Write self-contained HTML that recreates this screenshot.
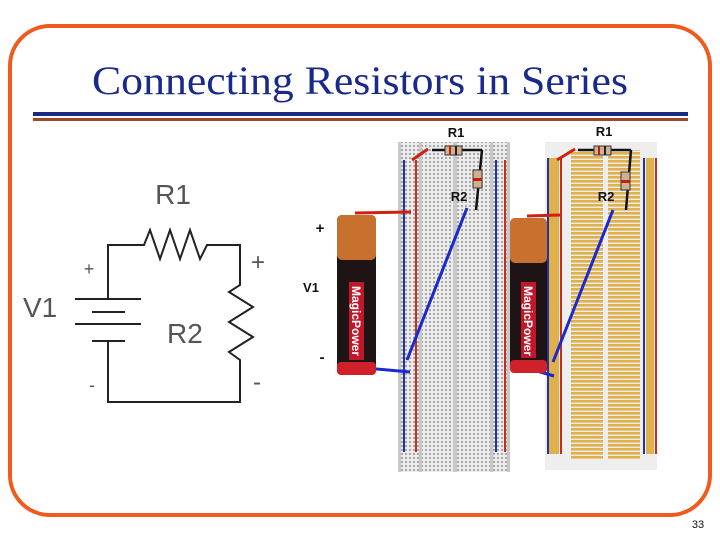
<!DOCTYPE html>
<html><head><meta charset="utf-8"><style>
html,body{margin:0;padding:0;background:#fff;width:720px;height:540px;overflow:hidden}
svg{display:block}
</style></head><body>
<svg width="720" height="540" viewBox="0 0 720 540" xmlns="http://www.w3.org/2000/svg">
<defs>
<pattern id="holes" width="4" height="4" patternUnits="userSpaceOnUse">
<rect width="4" height="4" fill="#ececec"/><rect x="1" y="1" width="2" height="2" fill="#a8a8a8"/>
</pattern>
<pattern id="strips" width="4" height="4" patternUnits="userSpaceOnUse">
<rect width="4" height="4" fill="#eee"/><rect x="0" y="0" width="4" height="2.6" fill="#e0b04a"/>
</pattern>
</defs>
<rect x="10" y="26" width="700" height="489" rx="40" fill="none" stroke="#f05a1e" stroke-width="4"/>
<text x="360" y="94" text-anchor="middle" font-family="Liberation Serif, serif" font-size="40" fill="#1a2a8c" textLength="536" lengthAdjust="spacingAndGlyphs">Connecting Resistors in Series</text>
<rect x="33" y="112" width="655" height="4" fill="#1a2a80"/>
<rect x="33" y="118" width="655" height="3" fill="#a0462a"/>

<g stroke="#222" stroke-width="2" fill="none">
<polyline points="108,299 108,245 144,245 150,230 160,259 170,230 180,259 190,230 200,259 207,245 240,245 240,285 229,292 253,307 229,322 253,337 229,352 240,360 240,402 108,402 108,341"/>
<line x1="75" y1="299" x2="141" y2="299"/>
<line x1="92" y1="312" x2="125" y2="312"/>
<line x1="75" y1="324" x2="141" y2="324"/>
<line x1="92" y1="341" x2="125" y2="341"/>
</g>
<g font-family="Liberation Sans, sans-serif" fill="#555">
<text x="173" y="204" font-size="28" text-anchor="middle">R1</text>
<text x="23" y="317" font-size="28">V1</text>
<text x="167" y="343" font-size="28">R2</text>
<text x="89" y="275" font-size="18" text-anchor="middle">+</text>
<text x="258" y="270" font-size="24" text-anchor="middle">+</text>
<text x="92" y="391" font-size="18" text-anchor="middle">-</text>
<text x="257" y="390" font-size="24" text-anchor="middle">-</text>
</g>

<rect x="398" y="142" width="112" height="330" fill="url(#holes)"/>
<g fill="#c8c8c8"><rect x="398" y="142" width="3" height="330"/><rect x="419" y="142" width="3" height="330"/><rect x="453" y="142" width="4" height="330"/><rect x="490" y="142" width="3" height="330"/><rect x="507" y="142" width="3" height="330"/></g>
<rect x="403" y="160" width="2" height="292" fill="#2233aa"/><rect x="415" y="160" width="2" height="292" fill="#cc2a1a"/>
<rect x="495" y="160" width="2" height="292" fill="#2233aa"/><rect x="504" y="160" width="2" height="292" fill="#cc2a1a"/>
<rect x="545" y="142" width="112" height="328" fill="#eee"/>
<rect x="549" y="158" width="10" height="296" fill="#e0b04a"/>
<rect x="547" y="158" width="2" height="296" fill="#2233aa"/><rect x="560" y="158" width="2" height="296" fill="#cc2a1a"/>
<rect x="571" y="150" width="32" height="310" fill="url(#strips)"/>
<rect x="608" y="150" width="32" height="310" fill="url(#strips)"/>
<rect x="646" y="158" width="8" height="296" fill="#e0b04a"/>
<rect x="643" y="158" width="2" height="296" fill="#2233aa"/><rect x="655" y="158" width="2" height="296" fill="#cc2a1a"/>

<g stroke-width="2.5" fill="none">
<line x1="412" y1="160" x2="428" y2="149" stroke="#d02010" stroke-width="3"/>
<line x1="432" y1="150" x2="482" y2="150" stroke="#111"/>
<line x1="482" y1="150" x2="476" y2="210" stroke="#111"/>
<line x1="557" y1="160" x2="575" y2="149" stroke="#d02010" stroke-width="3"/>
<line x1="578" y1="150" x2="631" y2="150" stroke="#111"/>
<line x1="631" y1="150" x2="626" y2="210" stroke="#111"/>
<line x1="467" y1="208" x2="407" y2="360" stroke="#1a2ad0" stroke-width="3"/>
<line x1="613" y1="210" x2="553" y2="362" stroke="#1a2ad0" stroke-width="3"/>
<line x1="355" y1="213" x2="411" y2="212" stroke="#d02010" stroke-width="3"/>
<line x1="527" y1="216" x2="560" y2="215" stroke="#d02010" stroke-width="3"/>
<line x1="355" y1="367" x2="410" y2="372" stroke="#1a2ad0" stroke-width="3"/>
<line x1="527" y1="368" x2="554" y2="376" stroke="#1a2ad0" stroke-width="3"/>
</g>
<g>
<rect x="445" y="146" width="17" height="9" fill="#d0b090" stroke="#333"/>
<rect x="449" y="146" width="2" height="9" fill="#c02010"/><rect x="455" y="146" width="2" height="9" fill="#222"/>
<rect x="473" y="170" width="9" height="18" fill="#d0b090" stroke="#333"/>
<rect x="473" y="178" width="9" height="3" fill="#c02010"/>
<rect x="594" y="146" width="17" height="9" fill="#d0b090" stroke="#333"/>
<rect x="598" y="146" width="2" height="9" fill="#c02010"/><rect x="604" y="146" width="2" height="9" fill="#222"/>
<rect x="621" y="172" width="9" height="18" fill="#d0b090" stroke="#333"/>
<rect x="621" y="180" width="9" height="3" fill="#c02010"/>
</g>
<g>
<rect x="337" y="215" width="39" height="160" rx="5" fill="#1e1416"/>
<rect x="337" y="215" width="39" height="45" rx="5" fill="#c8702e"/>
<rect x="337" y="362" width="39" height="13" rx="4" fill="#d0202a"/>
<rect x="349" y="282" width="15" height="78" fill="#c0182a"/>
<text transform="translate(352,286) rotate(90)" font-family="Liberation Sans, sans-serif" font-weight="bold" font-size="12" fill="#fff">MagicPower</text>
<rect x="510" y="218" width="37" height="155" rx="5" fill="#1e1416"/>
<rect x="510" y="218" width="37" height="45" rx="5" fill="#c8702e"/>
<rect x="510" y="360" width="37" height="13" rx="4" fill="#d0202a"/>
<rect x="521" y="282" width="15" height="76" fill="#c0182a"/>
<text transform="translate(524,286) rotate(90)" font-family="Liberation Sans, sans-serif" font-weight="bold" font-size="12" fill="#fff">MagicPower</text>
</g>
<g font-family="Liberation Sans, sans-serif" font-weight="bold" font-size="13" fill="#111">
<text x="456" y="137" text-anchor="middle">R1</text>
<text x="459" y="201" text-anchor="middle">R2</text>
<text x="604" y="136" text-anchor="middle">R1</text>
<text x="606" y="201" text-anchor="middle">R2</text>
<text x="320" y="233" text-anchor="middle" font-size="15">+</text>
<text x="311" y="292" text-anchor="middle">V1</text>
<text x="322" y="362" text-anchor="middle" font-size="15">-</text>
</g>
<text x="698" y="528" text-anchor="middle" font-family="Liberation Sans, sans-serif" font-size="11" fill="#111">33</text>
</svg>
</body></html>
